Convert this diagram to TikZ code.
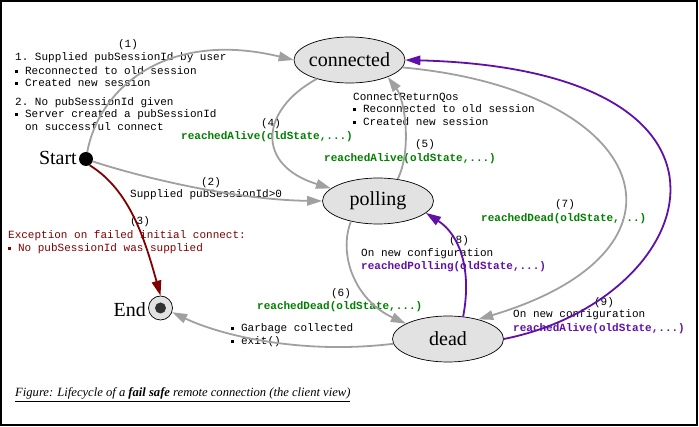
\documentclass[tikz,border=0pt]{standalone}
\usepackage{fontspec}
\setmainfont{Liberation Serif}
\setmonofont{Liberation Mono}
\usetikzlibrary{arrows.meta,shapes.geometric}
\definecolor{ggreen}{RGB}{0,128,0}
\definecolor{dred}{RGB}{128,0,0}
\definecolor{purp}{RGB}{96,16,168}
\definecolor{lgray}{RGB}{160,160,160}
\definecolor{sfill}{RGB}{226,226,226}
\definecolor{edot}{RGB}{50,50,50}
\newcommand\bul{\makebox[0.9em][l]{\rule[0.12em]{0.28em}{0.28em}}}
\begin{document}
\begin{tikzpicture}[x=1pt,y=-1pt,
  state/.style={ellipse, draw=black, line width=0.7pt, fill=sfill, minimum width=111pt, minimum height=46pt, inner xsep=-2pt, inner ysep=0pt, font=\fontsize{20}{20}\selectfont},
  mono/.style={inner sep=0pt, anchor=base west, font=\fontsize{11}{12.5}\selectfont\ttfamily},
  num/.style={mono, anchor=base},
  gtxt/.style={mono, text=ggreen, font=\fontsize{11}{12.5}\selectfont\ttfamily\bfseries},
  ptxt/.style={mono, text=purp, font=\fontsize{11}{12.5}\selectfont\ttfamily\bfseries},
  rtxt/.style={mono, text=dred},
  conn/.style={line width=1.8pt, -{Triangle[length=15pt,width=9.5pt]}},
  garr/.style={conn, draw=lgray},
  parr/.style={conn, draw=purp},
  rarr/.style={conn, draw=dred},
  lbl/.style={inner sep=0pt, font=\fontsize{20}{20}\selectfont}
]
\useasboundingbox (0,0) rectangle (699,427);
\draw[line width=1.3pt] (1,1) rectangle (697,425);

% states
\node[state] (cn) at (349.5,60) {connected};
\node[state] (pl) at (378,201) {polling};
\node[state] (dd) at (448,339) {dead};
\node[circle, fill=black, minimum size=14pt, inner sep=0pt] (st) at (86,159) {};
\node[circle, draw=black, line width=0.7pt, fill=sfill, minimum size=24pt, inner sep=0pt] (en) at (160.5,308) {};
\node[circle, fill=edot, minimum size=11pt, inner sep=0pt] (endin) at (en.center) {};
\node[lbl, anchor=east] (stl) at (77,158) {Start};
\node[lbl, anchor=east] (enl) at (146,310) {End};

% texts
\node[num] (n1) at (128,47.5) {(1)};
\node[mono] (t1a) at (15,61) {1. Supplied pubSessionId by user};
\node[mono] (t1b) at (15,74.5) {\bul Reconnected to old session};
\node[mono] (t1c) at (15,86.5) {\bul Created new session};
\node[mono] (t1d) at (15,105.5) {2. No pubSessionId given};
\node[mono] (t1e) at (15,117.5) {\bul Server created a pubSessionId};
\node[mono] (t1f) at (15,130.5) {\hspace*{0.9em}on successful connect};

\node[num] (n4) at (271,126.5) {(4)};
\node[gtxt] (t4) at (181,139.5) {reachedAlive(oldState,...)};

\node[mono] (tqa) at (353,100.5) {ConnectReturnQos};
\node[mono] (tqb) at (353,112.5) {\bul Reconnected to old session};
\node[mono] (tqc) at (353,125.5) {\bul Created new session};

\node[num] (n5) at (425,147.5) {(5)};
\node[gtxt] (t5) at (324,161.5) {reachedAlive(oldState,...)};

\node[num] (n2) at (211,185.5) {(2)};
\node[mono] (t2) at (130,197.5) {Supplied pubSessionId>0};

\node[num] (n3) at (140,224.5) {(3)};
\node[rtxt] (t3a) at (8,238.5) {Exception on failed initial connect:};
\node[rtxt] (t3b) at (8,251.5) {\bul No pubSessionId was supplied};

\node[num] (n7) at (565,207.5) {(7)};
\node[gtxt] (t7) at (481,221.5) {reachedDead(oldState,...)};

\node[num] (n8) at (459,243.5) {(8)};
\node[mono] (t8a) at (361,256.5) {On new configuration};
\node[ptxt] (t8b) at (361,269.5) {reachedPolling(oldState,...)};

\node[num] (n6) at (341,296.5) {(6)};
\node[gtxt] (t6) at (257,309.5) {reachedDead(oldState,...)};

\node[mono] (tga) at (231,331.5) {\bul Garbage collected};
\node[mono] (tgb) at (231,344.5) {\bul exit()};

\node[num] (n9) at (604,305.5) {(9)};
\node[mono] (t9a) at (513,317.5) {On new configuration};
\node[ptxt] (t9b) at (513,331.5) {reachedAlive(oldState,...)};

\node[inner sep=0pt, anchor=base west, font=\fontsize{12.6}{13}\selectfont\itshape] (cap) at (15,397)
  {\underline{Figure: Lifecycle of a \textbf{fail safe} remote connection (the client view)}};

% connectors
\draw[garr] (st.80) .. controls (100,85) and (170,30) .. (cn.180);
\draw[garr] (st.-20) .. controls (150,180) and (240,200) .. (pl.180);
\draw[rarr] (st.-60) .. controls (130,190) and (145,240) .. (en.north);
\draw[garr] (cn.210) .. controls (260,110) and (255,165) .. (pl.165);
\draw[garr] (pl.48) .. controls (412,150) and (405,100) .. (cn.336);
\draw[garr] (pl.217) .. controls (338,255) and (355,300) .. (dd.160);
\draw[garr] (cn.352) .. controls (650,90) and (710,250) .. (dd.33);
\draw[parr] (dd.56) .. controls (472,270) and (460,235) .. (pl.346);
\draw[parr] (dd.0) .. controls (700,300) and (780,70) .. (cn.0);
\draw[garr] (dd.185) .. controls (300,355) and (220,335) .. (en.-20);
\end{tikzpicture}
\end{document}
